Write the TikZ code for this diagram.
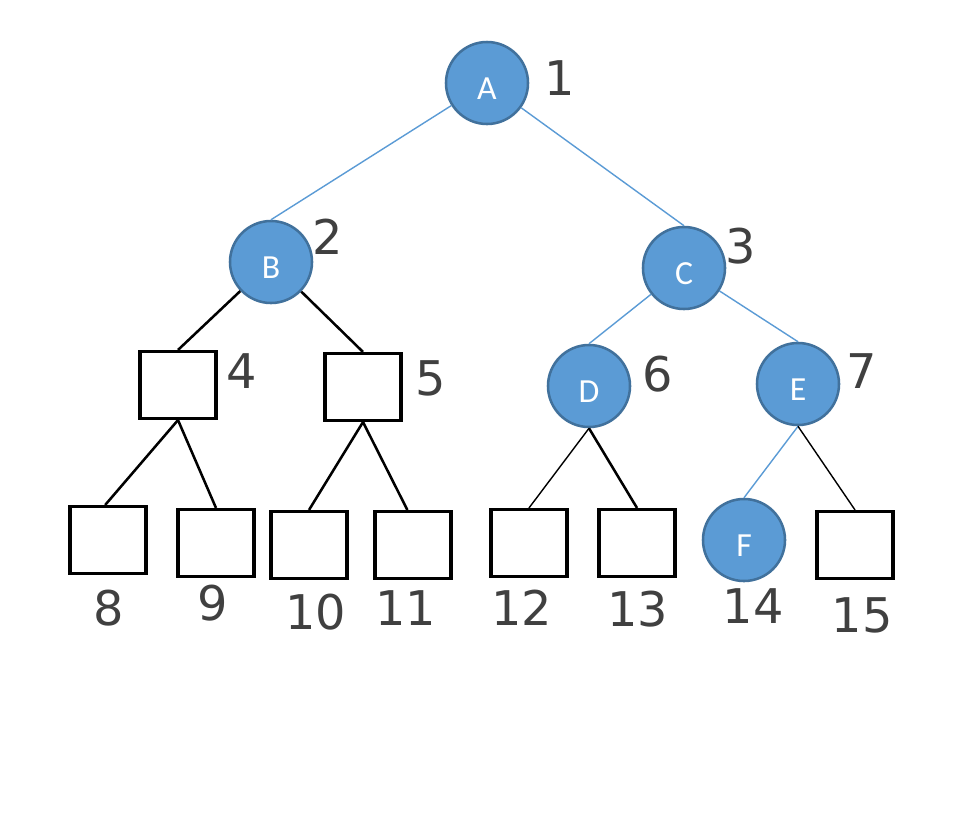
\documentclass[tikz,border=0pt]{standalone}
\usepackage{fontspec}
\setmainfont{Carlito}
\newfontfamily\numfont{DejaVu Sans}
\usepackage{xcolor}
\usepackage{tikz}
\usetikzlibrary{positioning}
\definecolor{nodeblue}{HTML}{5B9BD5}
\definecolor{nodeborder}{HTML}{41719C}
\definecolor{linkblue}{HTML}{5B9BD5}
\definecolor{penink}{HTML}{404040}
\tikzstyle{treenode}=[white, draw=nodeborder, line width=1.8pt, shape=circle, fill=nodeblue, minimum size=20.5mm, inner sep=0pt, text height=23.5pt, text depth=0pt, font=\fontsize{24}{26}\selectfont]
\tikzstyle{emptynode}=[draw=black, line width=2.2pt, shape=rectangle, fill=white, minimum width=19mm, minimum height=16.75mm, inner sep=0pt]
\tikzstyle{indexlabel}=[penink, inner sep=0pt, font=\numfont\fontsize{34}{36}\selectfont]
\tikzstyle{bluelink}=[linkblue, line width=1pt]
\tikzstyle{thicklink}=[black, line width=1.8pt]
\tikzstyle{thinlink}=[black, line width=1pt]

\begin{document}
\begin{tikzpicture}[x=0.025cm, y=-0.025cm]
\useasboundingbox (0,0) rectangle (965,817);
\node [treenode] (A) at (487,83) {A};
\node [treenode] (B) at (271,262) {B};
\node [treenode] (C) at (684,268) {C};
\node [emptynode] (n4) at (178,385) {};
\node [emptynode] (n5) at (363,387) {};
\node [treenode] (D) at (589,386) {D};
\node [treenode] (E) at (798,384) {E};
\node [emptynode] (n8) at (108,540) {};
\node [emptynode] (n9) at (216,543) {};
\node [emptynode] (n10) at (309,545) {};
\node [emptynode] (n11) at (413,545) {};
\node [emptynode] (n12) at (529,543) {};
\node [emptynode] (n13) at (637,543) {};
\node [treenode] (F) at (744,540) {F};
\node [emptynode] (n15) at (855,545) {};

\draw[bluelink] (A) -- (B.north);
\draw[bluelink] (A) -- (C.north);
\draw[thicklink] (B) -- (n4.north);
\draw[thicklink] (B) -- (n5.north);
\draw[bluelink] (C) -- (D.north);
\draw[bluelink] (C) -- (E.north);
\draw[thicklink] (n4.south) -- ([xshift=-2pt]n8.north);
\draw[thicklink] (n4.south) -- (n9.north);
\draw[thicklink] (n5.south) -- (n10.north);
\draw[thicklink] (n5.south) -- ([xshift=-4pt]n11.north);
\draw[thinlink] (D.south) -- (n12.north);
\draw[thicklink] (D.south) -- (n13.north);
\draw[bluelink] (E.south) -- (F.north);
\draw[thinlink] (E.south) -- (n15.north);

% hand-written numbering
\node [indexlabel] (num1) at (560,78) {1};
\node [indexlabel] (num2) at (328,237) {2};
\node [indexlabel] (num3) at (741,246) {3};
\node [indexlabel] (num4) at (242,371) {4};
\node [indexlabel] (num5) at (431,378) {5};
\node [indexlabel] (num6) at (658,374) {6};
\node [indexlabel] (num7) at (862,371) {7};
\node [indexlabel] (num8) at (109,608) {8};
\node [indexlabel] (num9) at (213,603) {9};
\node [indexlabel] (num10) at (316,612) {10};
\node [indexlabel] (num11) at (406,608) {11};
\node [indexlabel] (num12) at (522,608) {12};
\node [indexlabel] (num13) at (638,609) {13};
\node [indexlabel] (num14) at (753,606) {14};
\node [indexlabel] (num15) at (862,615) {15};
\end{tikzpicture}
\end{document}
